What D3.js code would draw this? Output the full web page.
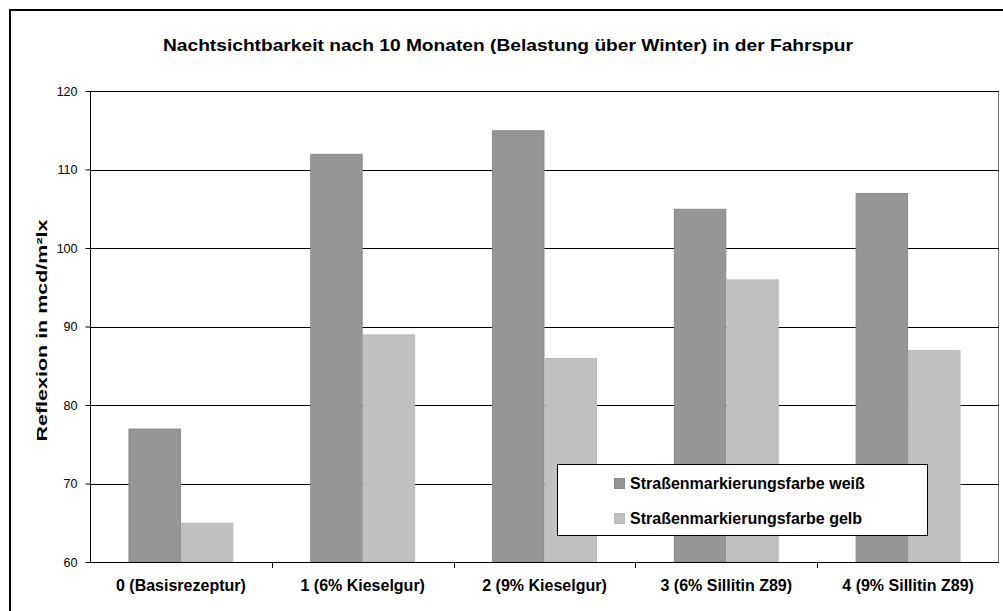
<!DOCTYPE html>
<html>
<head>
<meta charset="utf-8">
<script src="https://cdn.jsdelivr.net/npm/d3@7"></script>
<style>
  body { margin: 0; background: #fff; }
  text { font-family: "Liberation Sans", Arial, sans-serif; }
</style>
</head>
<body>
<div id="chart"></div>
<script>
const categories = ["0 (Basisrezeptur)", "1 (6% Kieselgur)", "2 (9% Kieselgur)", "3 (6% Sillitin Z89)", "4 (9% Sillitin Z89)"];
const seriesNames = ["Straßenmarkierungsfarbe weiß", "Straßenmarkierungsfarbe gelb"];
const weiss = [77, 112, 115, 105, 107];
const gelb = [65, 89, 86, 96, 87];
const yTicks = [60, 70, 80, 90, 100, 110, 120];

let width = 1003, height = 611,
  margin = {top: 91, right: 4, bottom: 49, left: 90};

let svg = d3.select("#chart")
  .append("svg")
  .attr("width", width)
  .attr("height", height);

// outer frame (runs off the right and bottom edge)
svg.append("rect")
  .attr("x", 10).attr("y", 10)
  .attr("width", 1010).attr("height", 620)
  .attr("fill", "none")
  .attr("stroke", "#000")
  .attr("stroke-width", 2);

// title is drawn wide in the original, so stretch it
svg.append("text")
  .attr("x", 508).attr("y", 51)
  .attr("text-anchor", "middle")
  .attr("textLength", 690)
  .attr("lengthAdjust", "spacingAndGlyphs")
  .style("font-size", "17px")
  .style("font-weight", "bold")
  .text("Nachtsichtbarkeit nach 10 Monaten (Belastung über Winter) in der Fahrspur");

let x = d3.scaleBand()
  .domain(categories)
  .range([margin.left, width - margin.right]);

let x1 = d3.scaleBand()
  .domain([0, 1])
  .range([0, x.bandwidth()])
  .paddingOuter(0.733);

let y = d3.scaleLinear()
  .domain([60, 120])
  .range([height - margin.bottom, margin.top]);

// plot area border
svg.append("rect")
  .attr("x", margin.left + 0.5).attr("y", margin.top + 0.5)
  .attr("width", width - margin.right - margin.left - 1)
  .attr("height", height - margin.bottom - margin.top)
  .attr("fill", "#fff")
  .attr("stroke", "#808080");

// gridlines
svg.append("g")
  .selectAll("line")
  .data(yTicks)
  .join("line")
  .attr("x1", margin.left).attr("x2", width - margin.right)
  .attr("y1", d => Math.round(y(d)) + 0.5)
  .attr("y2", d => Math.round(y(d)) + 0.5)
  .attr("stroke", "#000");

let colors = ["#969696", "#c0c0c0"];
let strokes = ["#8a8a8a", "#bababa"];
let data = categories.map((c, i) => ({cat: c, vals: [weiss[i], gelb[i]]}));

svg.append("g")
  .selectAll("g")
  .data(data)
  .join("g")
  .attr("transform", d => "translate(" + x(d.cat) + ",0)")
  .selectAll("rect")
  .data(d => d.vals.map((v, k) => ({k: k, v: v})))
  .join("rect")
  .attr("x", d => x1(d.k) + 0.5)
  .attr("y", d => y(d.v) + 0.5)
  .attr("width", x1.bandwidth() - 1)
  .attr("height", d => y(60) - y(d.v) - 0.5)
  .attr("fill", d => colors[d.k])
  .attr("stroke", d => strokes[d.k]);

let yAxis = d3.axisLeft(y)
  .tickValues(yTicks)
  .tickSize(5)
  .tickPadding(8);

let gy = svg.append("g")
  .attr("transform", "translate(" + (margin.left + 0.5) + ",0)")
  .call(yAxis);
gy.select(".domain").attr("stroke", "#000").attr("d", "M0," + y(120) + "V" + y(60));
gy.selectAll("text").style("font-size", "12.5px").attr("fill", "#000");

let xAxis = d3.axisBottom(x)
  .tickSize(0)
  .tickPadding(17);

let gx = svg.append("g")
  .attr("transform", "translate(0," + (Math.round(y(60)) + 0.5) + ")")
  .call(xAxis);
gx.select(".domain").attr("stroke", "#000").attr("d", "M" + margin.left + ",0H" + (width - margin.right));
gx.selectAll("text").style("font-size", "16px").style("font-weight", "bold").attr("fill", "#000");

// category separators
svg.append("g")
  .selectAll("line")
  .data(categories.slice(1))
  .join("line")
  .attr("x1", d => Math.round(x(d)) + 0.5)
  .attr("x2", d => Math.round(x(d)) + 0.5)
  .attr("y1", y(60)).attr("y2", y(60) + 6)
  .attr("stroke", "#000");

svg.append("text")
  .attr("transform", "translate(47," + ((y(60) + y(120)) / 2 + 4) + ") rotate(-90)")
  .attr("text-anchor", "middle")
  .attr("textLength", 222)
  .attr("lengthAdjust", "spacingAndGlyphs")
  .style("font-size", "15px")
  .style("font-weight", "bold")
  .text("Reflexion in mcd/m²lx");

// legend
let legend = svg.append("g").attr("transform", "translate(557,464)");
legend.append("rect")
  .attr("x", 0.5).attr("y", 0.5)
  .attr("width", 370).attr("height", 71)
  .attr("fill", "#fff")
  .attr("stroke", "#000");

let items = legend.selectAll("g")
  .data(seriesNames)
  .join("g")
  .attr("transform", (d, i) => "translate(57," + (14 + i * 35) + ")");
items.append("rect")
  .attr("x", 0.5).attr("y", 0.5)
  .attr("width", 10).attr("height", 10)
  .attr("fill", (d, i) => colors[i])
  .attr("stroke", (d, i) => strokes[i]);
items.append("text")
  .attr("x", 16).attr("y", 11)
  .style("font-size", "16px")
  .style("font-weight", "bold")
  .text(d => d);
</script>
</body>
</html>
